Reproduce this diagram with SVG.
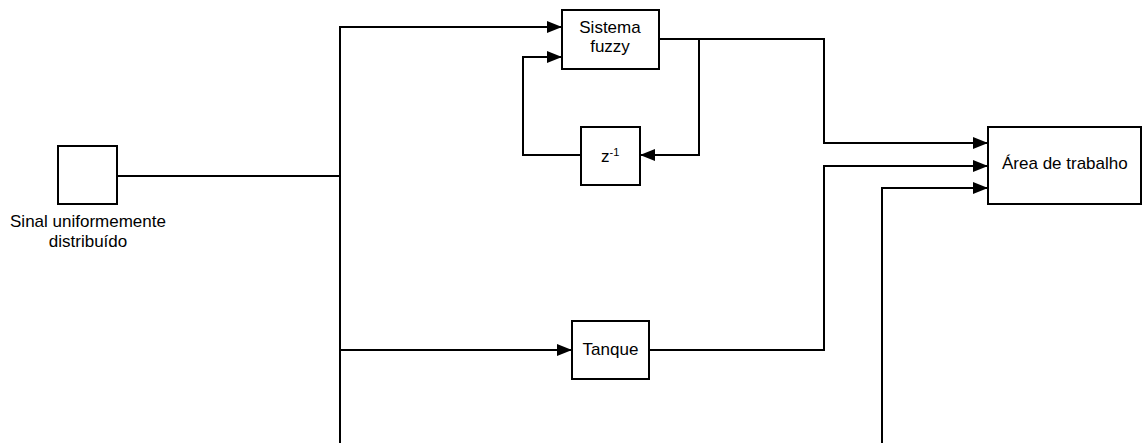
<svg xmlns="http://www.w3.org/2000/svg" width="1142" height="443" viewBox="0 0 1142 443">
<style>
.box{fill:#fff;stroke:#000;stroke-width:2}
.ln{fill:none;stroke:#000;stroke-width:2}
.t{font-family:"Liberation Sans",Arial,sans-serif;font-size:17px;fill:#000}
.c{text-anchor:middle}
</style>
<defs>
<marker id="ah" markerUnits="userSpaceOnUse" markerWidth="16" markerHeight="12" refX="15" refY="6" orient="auto">
<path d="M0,0 L15,6 L0,12 Z" fill="#000"/>
</marker>
</defs>
<g id="connectors">
<path class="ln" d="M117,176 H340"/>
<path class="ln" d="M340,443 V27 H562" marker-end="url(#ah)"/>
<path class="ln" d="M340,350 H572" marker-end="url(#ah)"/>
<path class="ln" d="M581,155 H523 V57 H562" marker-end="url(#ah)"/>
<path class="ln" d="M659,39 H699 V155 H640" marker-end="url(#ah)"/>
<path class="ln" d="M699,39 H824 V143 H988" marker-end="url(#ah)"/>
<path class="ln" d="M649,350 H824 V166 H988" marker-end="url(#ah)"/>
<path class="ln" d="M882,443 V188 H988" marker-end="url(#ah)"/>
</g>
<g id="sinal">
<rect class="box" x="58" y="146" width="59" height="58"/>
<text class="t c" x="88" y="227">Sinal uniformemente</text>
<text class="t c" x="88" y="247">distribuído</text>
</g>
<g id="fuzzy">
<rect class="box" x="562" y="10" width="97" height="59"/>
<text class="t c" x="610" y="33">Sistema</text>
<text class="t c" x="610" y="52">fuzzy</text>
</g>
<g id="delay">
<rect class="box" x="581" y="127" width="59" height="58"/>
<text class="t" x="601" y="162">z<tspan font-size="11" dy="-6">-1</tspan></text>
</g>
<g id="tanque">
<rect class="box" x="572" y="321" width="77" height="58"/>
<text class="t c" x="610.5" y="355">Tanque</text>
</g>
<g id="area">
<rect class="box" x="988" y="127" width="153" height="77"/>
<text class="t" x="1002" y="169">Área de trabalho</text>
</g>
</svg>
